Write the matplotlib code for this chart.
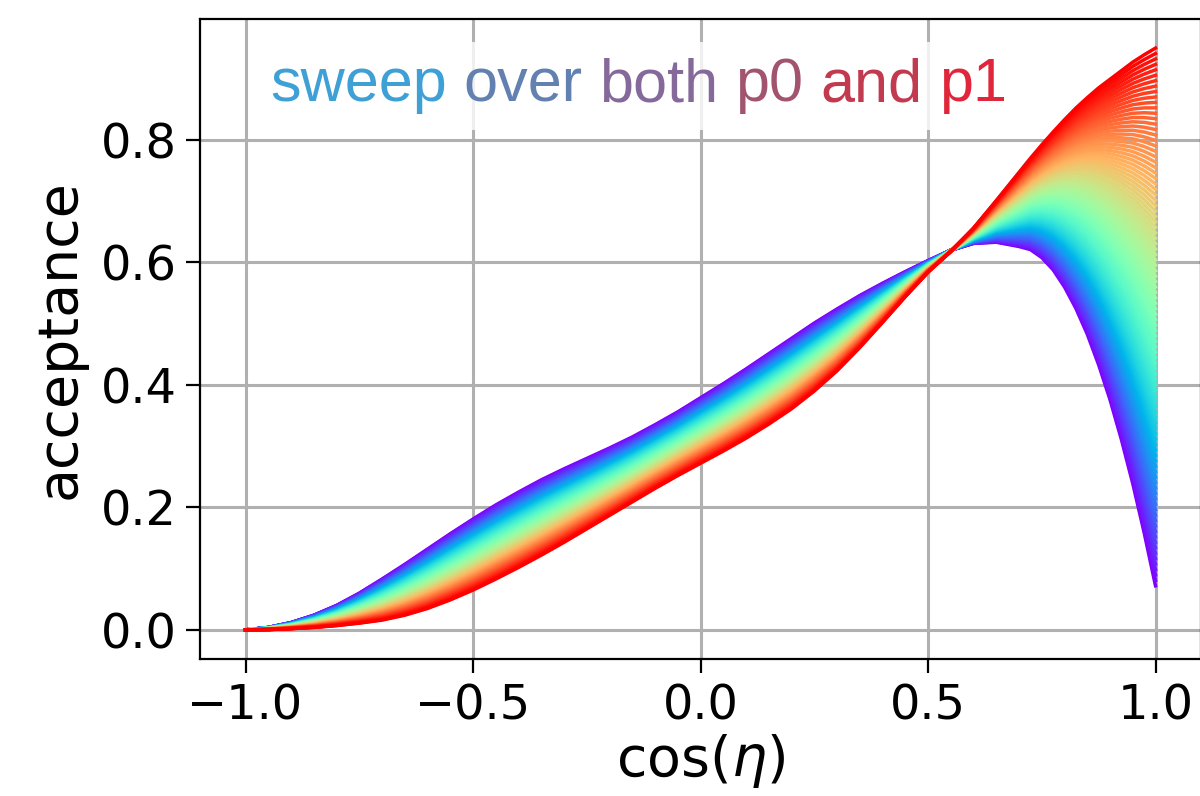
import matplotlib
matplotlib.use("Agg")
import matplotlib.pyplot as plt
import numpy as np
from matplotlib.offsetbox import AnchoredOffsetbox, HPacker, TextArea

# acceptance curves at the two ends of the (p0, p1) sweep
cos_eta = [-1.0, -0.95, -0.9, -0.85, -0.8, -0.75, -0.7, -0.65, -0.6, -0.55,
           -0.5, -0.45, -0.4, -0.35, -0.3, -0.25, -0.2, -0.15, -0.1, -0.05,
           0.0, 0.05, 0.1, 0.15, 0.2, 0.25, 0.3, 0.35, 0.4, 0.45,
           0.5, 0.55, 0.6, 0.65, 0.7, 0.725, 0.75, 0.775, 0.8, 0.825,
           0.85, 0.875, 0.9, 0.925, 0.95, 0.975, 1.0]
acc_start = [0.0, 0.004, 0.012, 0.024, 0.040, 0.060, 0.083, 0.107, 0.132, 0.157,
             0.181, 0.204, 0.225, 0.245, 0.263, 0.280, 0.297, 0.315, 0.335, 0.356,
             0.379, 0.402, 0.426, 0.451, 0.476, 0.501, 0.524, 0.546, 0.566, 0.585,
             0.603, 0.620, 0.631, 0.633, 0.626, 0.621, 0.608, 0.588, 0.560, 0.525,
             0.483, 0.433, 0.376, 0.311, 0.239, 0.159, 0.072]
acc_end = [0.0, 0.0005, 0.002, 0.004, 0.007, 0.011, 0.016, 0.024, 0.035, 0.049,
           0.065, 0.083, 0.102, 0.122, 0.143, 0.165, 0.187, 0.209, 0.231, 0.252,
           0.272, 0.292, 0.313, 0.336, 0.361, 0.390, 0.423, 0.461, 0.502, 0.544,
           0.584, 0.618, 0.656, 0.701, 0.747, 0.770, 0.792, 0.813, 0.833, 0.852,
           0.869, 0.885, 0.899, 0.913, 0.927, 0.939, 0.950]

n_curves = 100
sweep = np.linspace(0, 1, n_curves)

title_words = ["sweep", "over", "both", "p0", "and", "p1"]
title_colors = ["#3fa0d6", "#6281b0", "#85699a", "#a2546f", "#c23a4f", "#e0263a"]

x = np.array(cos_eta)
a0 = np.array(acc_start)
a1 = np.array(acc_end)

fig = plt.figure(figsize=(12, 7.96), dpi=100)
ax = fig.add_axes([200 / 1200, 137 / 796, 1001 / 1200, 640 / 796])

cmap = plt.cm.rainbow
for t in sweep:
    ax.plot(x, (1 - t) * a0 + t * a1, color=cmap(t), lw=2.5)

ax.set_xlim(-1.1, 1.1)
ax.set_ylim(-0.0475, 0.9975)
ax.set_xticks([-1.0, -0.5, 0.0, 0.5, 1.0])
ax.set_yticks([0.0, 0.2, 0.4, 0.6, 0.8])
ax.grid(True, color="#b0b0b0", lw=2.2)
ax.set_axisbelow(True)
ax.tick_params(labelsize=34.5, width=1.6, length=10, pad=7)
for s in ax.spines.values():
    s.set_linewidth(1.6)

ax.set_xlabel(r"cos($\eta$)", fontsize=40, labelpad=2)
ax.set_ylabel("acceptance", fontsize=40, labelpad=10)

words = [TextArea(w, textprops=dict(color=c, fontsize=44, family="Liberation Sans"))
         for w, c in zip(title_words, title_colors)]
box = AnchoredOffsetbox(loc="upper left", child=HPacker(children=words, pad=0, sep=12),
                        pad=0.25, borderpad=0, frameon=True, prop=dict(size=44),
                        bbox_to_anchor=(55 / 1001, 617 / 640), bbox_transform=ax.transAxes)
box.patch.set_facecolor("white")
box.patch.set_edgecolor("none")
box.patch.set_alpha(0.8)
ax.add_artist(box)

fig.savefig("out.png", dpi=100)
